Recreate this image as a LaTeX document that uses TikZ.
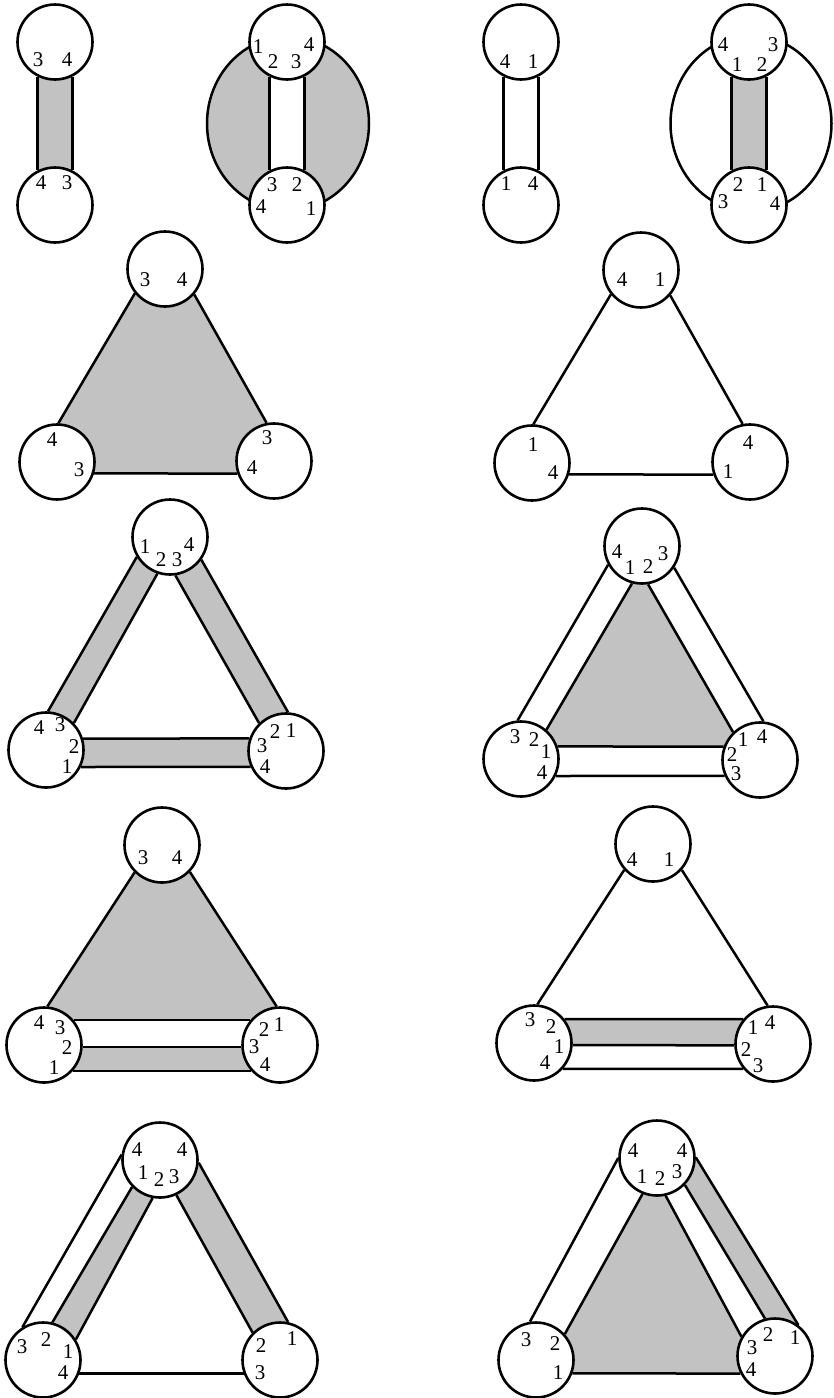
\documentclass[tikz,border=0pt]{standalone}
\usepackage{fontspec}
\setmainfont{Liberation Serif}
\usetikzlibrary{backgrounds}
\definecolor{ribbon}{gray}{0.76}

\begin{document}
\begin{tikzpicture}[x=1pt, y=-1pt,
    ball/.style={circle, draw, fill=white, line width=2.6pt, minimum size=75pt, inner sep=0pt},
    side/.style={line width=2.5pt},
    band/.style={fill=ribbon},
    num/.style={font=\fontsize{21}{21}\selectfont, inner sep=0pt},
]
\useasboundingbox (0,0) rectangle (833,1398);

% Discs, row by row
\node[ball] (p1a) at (55,42) {};
\node[ball] (p1b) at (55,205) {};
\node[ball] (p2a) at (287,42) {};
\node[ball] (p2b) at (287,205) {};
\node[ball] (p3a) at (521,42) {};
\node[ball] (p3b) at (521,205) {};
\node[ball] (p4a) at (749,42) {};
\node[ball] (p4b) at (749,205) {};

\node[ball] (p5a) at (165,269) {};
\node[ball] (p5b) at (57,462) {};
\node[ball] (p5c) at (274,461) {};
\node[ball] (p6a) at (641,270) {};
\node[ball] (p6b) at (532,463) {};
\node[ball] (p6c) at (750,462) {};

\node[ball] (p7a) at (170,537) {};
\node[ball] (p7b) at (46,750) {};
\node[ball] (p7c) at (286,751) {};
\node[ball] (p8a) at (642,546) {};
\node[ball] (p8b) at (521,759) {};
\node[ball] (p8c) at (760,760) {};

\node[ball] (p9a) at (162,845) {};
\node[ball] (p9b) at (44,1045) {};
\node[ball] (p9c) at (280,1045) {};
\node[ball] (p10a) at (653,844) {};
\node[ball] (p10b) at (534,1043) {};
\node[ball] (p10c) at (773,1044) {};

\node[ball] (p11a) at (160,1160) {};
\node[ball] (p11b) at (43,1360) {};
\node[ball] (p11c) at (280,1360) {};
\node[ball] (p12a) at (657,1158) {};
\node[ball] (p12b) at (536,1360) {};
\node[ball] (p12c) at (775,1356) {};

\begin{scope}[on background layer]
% Row 1
\fill[band] (p1a.-117) -- (p1b.117) -- (p1b.63) -- (p1a.-63) -- cycle;
\draw[side] (p1a.-117) -- (p1b.117);
\draw[side] (p1a.-63) -- (p1b.63);

\draw[side, band] (288,123.5) ellipse [x radius=81, y radius=87];
\fill[white] (p2a.-117) -- (p2b.117) -- (p2b.63) -- (p2a.-63) -- cycle;
\draw[side] (p2a.-117) -- (p2b.117);
\draw[side] (p2a.-63) -- (p2b.63);

\draw[side] (p3a.-117) -- (p3b.117);
\draw[side] (p3a.-63) -- (p3b.63);

\draw[side] (751,123.5) ellipse [x radius=80.5, y radius=88];
\fill[band] (p4a.-117) -- (p4b.117) -- (p4b.63) -- (p4a.-63) -- cycle;
\draw[side] (p4a.-117) -- (p4b.117);
\draw[side] (p4a.-63) -- (p4b.63);

% Row 2
\fill[band] (p5a.219) -- (p5b.88) -- (p5b.-17) -- (p5c.199) -- (p5c.101) -- (p5a.-41) -- cycle;
\draw[side] (p5a.219) -- (p5b.88);
\draw[side] (p5a.-41) -- (p5c.101);
\draw[side] (p5b.-17) -- (p5c.199);

\draw[side] (p6a.219) -- (p6b.88);
\draw[side] (p6a.-41) -- (p6c.101);
\draw[side] (p6b.-17) -- (p6c.199);

% Row 3
\fill[band] (p7a.211) -- (p7b.87) -- (p7b.44) -- (p7a.251) -- cycle;
\fill[band] (p7a.-82) -- (p7c.134) -- (p7c.87) -- (p7a.-36) -- cycle;
\fill[band] (p7b.17) -- (p7c.161) -- (p7c.204) -- (p7b.-26) -- cycle;
\draw[side] (p7a.211) -- (p7b.87);
\draw[side] (p7a.251) -- (p7b.44);
\draw[side] (p7a.-82) -- (p7c.134);
\draw[side] (p7a.-36) -- (p7c.87);
\draw[side] (p7b.17) -- (p7c.161);
\draw[side] (p7b.-26) -- (p7c.204);

\fill[band] (p8a.255) -- (p8b.49) -- (p8b.19) -- (p8c.160) -- (p8c.134) -- (p8a.-81) -- cycle;
\draw[side] (p8a.209) -- (p8b.95);
\draw[side] (p8a.255) -- (p8b.49);
\draw[side] (p8a.-81) -- (p8c.134);
\draw[side] (p8a.-34) -- (p8c.85);
\draw[side] (p8b.19) -- (p8c.160);
\draw[side] (p8b.-26) -- (p8c.204);

% Row 4
\fill[band] (p9a.225) -- (p9b.85) -- (p9b.40) -- (p9c.140) -- (p9c.95) -- (p9a.-44) -- cycle;
\fill[band] (p9b.-3) -- (p9c.183) -- (p9c.222) -- (p9b.-42) -- cycle;
\draw[side] (p9a.225) -- (p9b.85);
\draw[side] (p9a.-44) -- (p9c.95);
\draw[side] (p9b.40) -- (p9c.140);
\draw[side] (p9b.-3) -- (p9c.183);
\draw[side] (p9b.-42) -- (p9c.222);

\fill[band] (p10b.38) -- (p10c.140) -- (p10c.182) -- (p10b.-3) -- cycle;
\draw[side] (p10a.222) -- (p10b.85);
\draw[side] (p10a.-42) -- (p10c.98);
\draw[side] (p10b.38) -- (p10c.140);
\draw[side] (p10b.-3) -- (p10c.182);
\draw[side] (p10b.-42) -- (p10c.220);

% Row 5
\fill[band] (p11a.224) -- (p11b.76) -- (p11b.32) -- (p11a.259) -- cycle;
\fill[band] (p11a.-65) -- (p11c.135) -- (p11c.78) -- (p11a.-4) -- cycle;
\draw[side] (p11a.172) -- (p11b.122);
\draw[side] (p11a.224) -- (p11b.76);
\draw[side] (p11a.259) -- (p11b.32);
\draw[side] (p11a.-65) -- (p11c.135);
\draw[side] (p11a.-4) -- (p11c.78);
\draw[side] (p11b.-20) -- (p11c.200);

\fill[band] (p12a.248) -- (p12b.42) -- (p12b.-20) -- (p12c.207) -- (p12c.150) -- (p12a.-77) -- cycle;
\fill[band] (p12a.-44) -- (p12c.105) -- (p12c.53) -- (p12a.1) -- cycle;
\draw[side] (p12a.180) -- (p12b.99);
\draw[side] (p12a.248) -- (p12b.42);
\draw[side] (p12a.-77) -- (p12c.150);
\draw[side] (p12a.-44) -- (p12c.105);
\draw[side] (p12a.1) -- (p12c.53);
\draw[side] (p12b.-20) -- (p12c.207);
\end{scope}

% Edge numbers inside the discs
\foreach \t/\x/\y [count=\i] in {3/38/60, 4/67/60, 4/41/183, 3/67/183}
  \node[num] (p1n\i) at (\x,\y) {\t};
\foreach \t/\x/\y [count=\i] in {1/258/47, 2/273/62, 3/296/62, 4/309/45, 3/272/185, 2/297/185, 4/261/207, 1/311/209}
  \node[num] (p2n\i) at (\x,\y) {\t};
\foreach \t/\x/\y [count=\i] in {4/505/62, 1/533/62, 1/506/184, 4/533/184}
  \node[num] (p3n\i) at (\x,\y) {\t};
\foreach \t/\x/\y [count=\i] in {4/723/45, 3/773/45, 1/737/65, 2/762/65, 2/738/185, 1/762/185, 3/723/202, 4/775/204}
  \node[num] (p4n\i) at (\x,\y) {\t};
\foreach \t/\x/\y [count=\i] in {3/145/280, 4/182/280, 4/52/440, 3/79/470, 3/267/438, 4/252/468}
  \node[num] (p5n\i) at (\x,\y) {\t};
\foreach \t/\x/\y [count=\i] in {4/622/280, 1/660/280, 1/533/445, 4/553/473, 4/748/443, 1/728/472}
  \node[num] (p6n\i) at (\x,\y) {\t};
\foreach \t/\x/\y [count=\i] in {1/145/547, 2/161/560, 3/177/560, 4/189/545, 4/39/728, 3/60/725, 2/74/747, 1/67/767, 2/275/732, 1/291/731, 3/262/746, 4/265/767}
  \node[num] (p7n\i) at (\x,\y) {\t};
\foreach \t/\x/\y [count=\i] in {4/617/552, 1/630/568, 2/648/567, 3/663/554, 3/515/737, 2/534/740, 1/546/752, 4/542/773, 1/743/740, 4/762/737, 2/732/755, 3/736/774}
  \node[num] (p8n\i) at (\x,\y) {\t};
\foreach \t/\x/\y [count=\i] in {3/143/858, 4/177/858, 4/39/1023, 3/60/1028, 2/67/1048, 1/54/1068, 2/264/1030, 1/279/1025, 3/254/1047, 4/265/1065}
  \node[num] (p9n\i) at (\x,\y) {\t};
\foreach \t/\x/\y [count=\i] in {4/632/860, 1/669/860, 3/530/1020, 2/551/1027, 1/559/1047, 4/545/1063, 1/753/1028, 4/770/1023, 2/746/1050, 3/758/1066}
  \node[num] (p10n\i) at (\x,\y) {\t};
\foreach \t/\x/\y [count=\i] in {4/137/1150, 4/182/1150, 1/143/1173, 2/159/1180, 3/174/1177, 3/22/1347, 2/46/1340, 1/68/1352, 4/63/1373, 2/261/1346, 1/292/1339, 3/260/1373}
  \node[num] (p11n\i) at (\x,\y) {\t};
\foreach \t/\x/\y [count=\i] in {4/633/1151, 4/682/1151, 1/642/1177, 2/660/1179, 3/677/1172, 3/526/1340, 2/555/1344, 1/558/1373, 2/768/1335, 1/795/1338, 3/752/1348, 4/751/1370}
  \node[num] (p12n\i) at (\x,\y) {\t};

\end{tikzpicture}
\end{document}
